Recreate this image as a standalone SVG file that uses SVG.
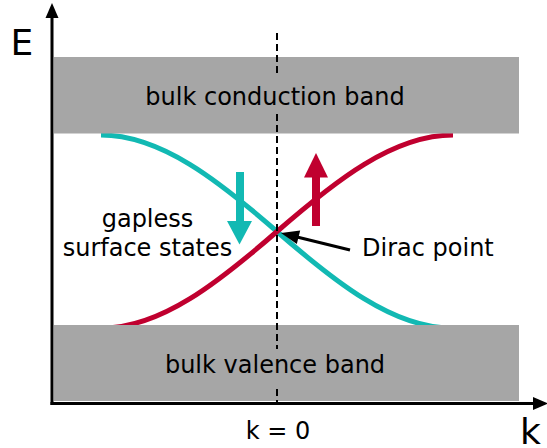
<svg xmlns="http://www.w3.org/2000/svg" width="547" height="448" viewBox="0 0 547 448">
<defs>
<style>
text{font-family:"DejaVu Sans","Liberation Sans",sans-serif;fill:#000}
.lbl{font-size:24px}
.big{font-size:36px}
.band{fill:#a6a6a6}
.teal{stroke:#12b9b3;fill:none;stroke-width:5}
.red{stroke:#c0002f;fill:none;stroke-width:5}
.axis{stroke:#000;stroke-width:3;fill:none}
</style>
</defs>
<rect width="547" height="448" fill="#fff"/>
<g id="curves">
<path id="teal-curve" class="teal" d="M101,135 C161,135 219,180.97 277,231.5 S393,328 451,328"/>
<path id="red-curve" class="red" d="M103,328 C161,328 219,282.03 277,231.5 S393,135 453,135"/>
</g>
<g id="conduction-band">
<rect class="band" x="54" y="57" width="465" height="76.5"/>
</g>
<g id="valence-band">
<rect class="band" x="54" y="325" width="465" height="76"/>
</g>
<g id="connectors">
<path d="M277,33 V76 M277,114 V349 M277,389 V402" stroke="#000" stroke-width="2" stroke-dasharray="7,4" fill="none"/>
<path class="axis" d="M52,405 V15"/>
<polygon points="52,3 45.5,18 58.5,18" fill="#000"/>
<path class="axis" d="M50.5,403.5 H536"/>
<polygon points="548,403.5 533,397 533,410" fill="#000"/>
<path d="M350,250 L297,237" stroke="#000" stroke-width="3" fill="none"/>
<polygon points="281,233 300.2,230.5 296.8,244.1" fill="#000"/>
</g>
<g id="spin-down">
<rect x="236" y="172" width="8" height="50" fill="#12b9b3"/>
<polygon points="227,221 252,221 239.5,244.5" fill="#12b9b3"/>
</g>
<g id="spin-up">
<rect x="312" y="176" width="8" height="50" fill="#c0002f"/>
<polygon points="304,177.5 328,177.5 316,153" fill="#c0002f"/>
</g>
<g id="labels">
<text class="lbl" x="275" y="105" text-anchor="middle">bulk conduction band</text>
<text class="lbl" x="275" y="373" text-anchor="middle">bulk valence band</text>
<text class="lbl" x="147.5" y="227" text-anchor="middle">gapless</text>
<text class="lbl" x="147.5" y="256" text-anchor="middle">surface states</text>
<text class="lbl" x="362" y="256">Dirac point</text>
<text class="lbl" x="278" y="439" text-anchor="middle">k = 0</text>
<text class="big" x="10.5" y="55">E</text>
<text class="big" x="520" y="444">k</text>
</g>
</svg>
